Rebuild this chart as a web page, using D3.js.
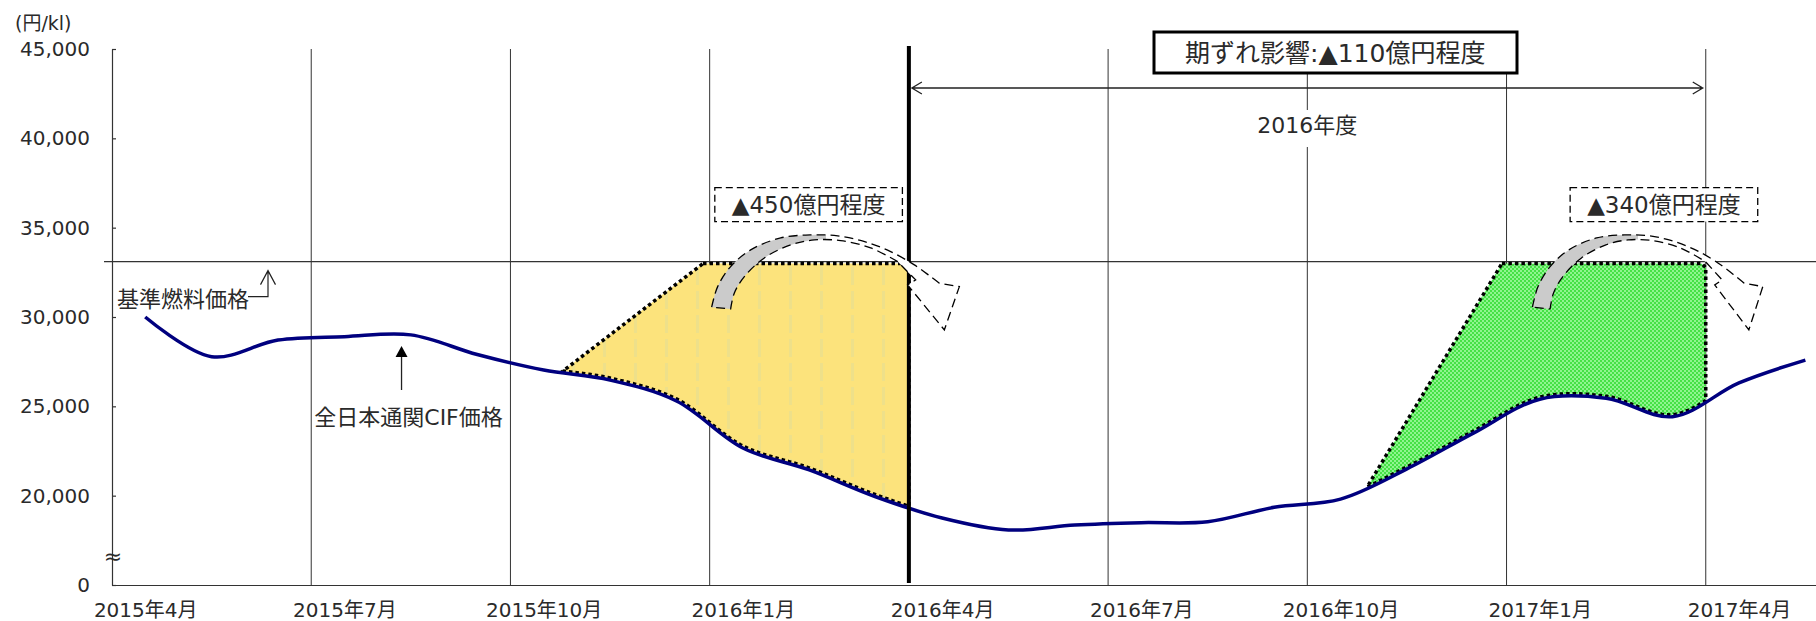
<!DOCTYPE html>
<html lang="ja">
<head>
<meta charset="utf-8">
<title>基準燃料価格と全日本通関CIF価格</title>
<style>
body { margin: 0; background: #fff; }
svg text { font-family: "DejaVu Sans", "Noto Sans CJK JP", sans-serif; fill: #2a2a2a; }
.grid line { stroke: #333; stroke-width: 1; }
.axis path, .axis line { stroke: #333; stroke-width: 1.2; }
.axis text { font-size: 20px; fill: #2a2a2a; }
.cif { fill: none; stroke: #00007f; stroke-width: 3.5px; }
.band { stroke: #000; stroke-width: 3.5; stroke-dasharray: 3.5,3; }
.curl { stroke: #000; stroke-width: 1.3; stroke-dasharray: 9,5; }
</style>
<script src="https://cdn.jsdelivr.net/npm/d3@7"></script>
</head>
<body>
<script>

// month index 0 = 2015年4月, one step per month
var tickMonths = [0, 3, 6, 9, 12, 15, 18, 21, 24];
var tickLabels = ["2015年4月", "2015年7月", "2015年10月", "2016年1月", "2016年4月",
                  "2016年7月", "2016年10月", "2017年1月", "2017年4月"];
var yTicks = [15000, 20000, 25000, 30000, 35000, 40000, 45000];

// 全日本通関CIF価格 (円/kl), monthly, 2015年4月 .. 2017年5月
var cifPrice = [30000, 27780, 28710, 28900, 29000, 27900, 27030, 26470, 25300, 22670,
                21440, 19940, 18750, 18080, 18360, 18490, 18540, 19350, 19810, 21500,
                23500, 25400, 25450, 24420, 26310, 27590];

var basePrice = 33100;   // 基準燃料価格

// shaded gaps between 基準燃料価格 and CIF (month index)
var gapFrom   = [6.79, 18.9];
var gapCorner = [8.9, 20.93];
var gapTo     = [12, 24];
var gapLabels = ["▲450億円程度", "▲340億円程度"];
var gapLabelAt = [10.49, 23.37];
var curlAt = [9.03, 21.39];
var curlScale = [1, 0.93];

var width = 1816, height = 621;

var svg = d3.select("body").append("svg")
    .attr("width", width)
    .attr("height", height);

var x = d3.scaleLinear().domain([0, 25.66]).range([112, 1816]);
var y = d3.scaleLinear().domain([15000, 45000]).range([585, 49]);

var defs = svg.append("defs");

var yp = defs.append("pattern").attr("id", "yellowFill")
    .attr("patternUnits", "userSpaceOnUse").attr("width", 31).attr("height", 24);
yp.append("rect").attr("width", 31).attr("height", 24).attr("fill", "#fce37c");
yp.append("rect").attr("x", 14).attr("y", 3).attr("width", 3).attr("height", 18).attr("fill", "#eee08a");

var gp = defs.append("pattern").attr("id", "greenFill")
    .attr("patternUnits", "userSpaceOnUse").attr("width", 4).attr("height", 4);
gp.append("rect").attr("width", 4).attr("height", 4).attr("fill", "#8ff58f");
gp.append("rect").attr("width", 2).attr("height", 2).attr("fill", "#45e145");
gp.append("rect").attr("x", 2).attr("y", 2).attr("width", 2).attr("height", 2).attr("fill", "#45e145");

var grad = defs.append("linearGradient").attr("id", "curlFill")
    .attr("x1", 0).attr("x2", 1).attr("y1", 0).attr("y2", 0);
grad.append("stop").attr("offset", 0).attr("stop-color", "#cbcbcb");
grad.append("stop").attr("offset", 0.46).attr("stop-color", "#cbcbcb");
grad.append("stop").attr("offset", 0.46).attr("stop-color", "#fff");
grad.append("stop").attr("offset", 1).attr("stop-color", "#fff");

// vertical grid
svg.append("g").attr("class", "grid")
  .selectAll("line")
  .data(tickMonths.filter(function(m) { return m != 0 && m != 12; }))
  .enter().append("line")
    .attr("x1", function(d) { return x(d); })
    .attr("x2", function(d) { return x(d); })
    .attr("y1", y(45000))
    .attr("y2", y(15000));

// 基準燃料価格 line
svg.append("line")
    .attr("x1", x(0) - 8).attr("x2", width)
    .attr("y1", y(basePrice)).attr("y2", y(basePrice))
    .attr("stroke", "#333").attr("stroke-width", 1.2);

var valueline = d3.line()
    .x(function(d, i) { return x(i + 0.5); })
    .y(function(d) { return y(d); })
    .curve(d3.curveCatmullRom.alpha(0.5));

var gapLayer = svg.append("g");

var cifPath = svg.append("path")
    .datum(cifPrice)
    .attr("class", "cif")
    .attr("d", valueline);

function yAtX(node, px) {
  var lo = 0, hi = node.getTotalLength();
  for (var k = 0; k < 40; k++) {
    var mid = (lo + hi) / 2;
    if (node.getPointAtLength(mid).x < px) lo = mid; else hi = mid;
  }
  return node.getPointAtLength((lo + hi) / 2).y;
}

var fills = ["url(#yellowFill)", "url(#greenFill)"];
gapFrom.forEach(function(f, k) {
  var xa = x(f), xb = x(gapTo[k]), yt = y(basePrice) + 2;
  var lower = d3.range(xb, xa, -2).concat([xa]).map(function(px) {
    return [px, yAtX(cifPath.node(), px) - 2];
  });
  var pts = [[x(gapCorner[k]), yt], [xb - 4, yt], [xb, yt + 4]].concat(lower);
  gapLayer.append("path")
      .attr("class", "band")
      .attr("fill", fills[k])
      .attr("d", d3.line()(pts) + "Z");
});

// thick 2016年4月 divider
svg.append("line")
    .attr("x1", x(12)).attr("x2", x(12))
    .attr("y1", y(45000) - 3).attr("y2", y(15000) - 2)
    .attr("stroke", "#000").attr("stroke-width", 4);

// axes
svg.append("g")
    .attr("class", "axis")
    .attr("transform", "translate(" + x(0) + ",0)")
    .call(d3.axisLeft(y).tickValues(yTicks).tickSizeInner(-4).tickSizeOuter(0).tickPadding(22)
      .tickFormat(function(v) { return v == 15000 ? "0" : d3.format(",")(v); }));

svg.append("g")
    .attr("class", "axis")
    .attr("transform", "translate(0," + y(15000) + ")")
    .call(d3.axisBottom(x).tickValues(tickMonths.map(function(m) { return m + 0.5; }))
      .tickSize(0).tickPadding(18)
      .tickFormat(function(d, i) { return tickLabels[i]; }));

// axis break mark
svg.append("text")
    .attr("x", x(0) + 1).attr("y", y(16600))
    .attr("text-anchor", "middle").attr("dominant-baseline", "central")
    .style("font-size", "22px")
    .text("≈");

// unit
svg.append("text")
    .attr("x", 15).attr("y", 23)
    .attr("dominant-baseline", "central")
    .style("font-size", "19px")
    .text("(円/kl)");

// 基準燃料価格 label + pointer
var by = y(basePrice);
svg.append("text")
    .attr("x", 117).attr("y", by + 38)
    .attr("dominant-baseline", "central")
    .style("font-size", "22px")
    .text("基準燃料価格");
svg.append("path")
    .attr("fill", "none").attr("stroke", "#222").attr("stroke-width", 1.2)
    .attr("d", "M248," + (by + 35) + "H268V" + (by + 9) +
               "M260.5," + (by + 23) + "L268," + (by + 9) + "L275.5," + (by + 23));

// 全日本通関CIF価格 label + arrow
var ax = x(4.36), ay = yAtX(cifPath.node(), ax) + 12;
svg.append("line")
    .attr("x1", ax).attr("x2", ax).attr("y1", ay + 8).attr("y2", ay + 44)
    .attr("stroke", "#222").attr("stroke-width", 1.3);
svg.append("path")
    .attr("fill", "#000")
    .attr("d", "M" + ax + "," + ay + "l-6,11h12z");
svg.append("text")
    .attr("x", ax + 7).attr("y", ay + 71)
    .attr("text-anchor", "middle").attr("dominant-baseline", "central")
    .style("font-size", "22px")
    .text("全日本通関CIF価格");

// curved arrows (shape template relative to tail)
var curlOuter = [[0,45.6],[6,25],[19,5],[39,-11.7],[69,-23.7],[99,-26.7],[126,-25.7],
                 [153,-20],[179,-10],[202.7,3.3],[219,15],[227.7,21.6]];
var curlHead  = [[247.7,25],[232.7,68.3],[196,23.3],[204,18.3]];
var curlInner = [[186,0],[159,-13.7],[129,-21],[102.7,-21.7],[79,-16.7],[52.7,-3.7],
                 [32.7,15],[22.7,31.3],[19,47.3]];
var smooth = d3.line().curve(d3.curveCatmullRom.alpha(0.5));
var curlD = smooth(curlOuter) +
    curlHead.map(function(p) { return "L" + p[0] + "," + p[1]; }).join("") +
    smooth(curlInner).replace(/^M/, "L") + "Z";

curlAt.forEach(function(c, k) {
  svg.append("path")
      .attr("class", "curl")
      .attr("fill", "url(#curlFill)")
      .attr("vector-effect", "non-scaling-stroke")
      .attr("transform", "translate(" + x(c) + "," + by + ") scale(" + curlScale[k] + ",1)")
      .attr("d", curlD);
});

// dashed amount boxes
gapLabels.forEach(function(t, k) {
  var g = svg.append("g");
  var r = g.append("rect");
  var tx = g.append("text")
      .attr("x", x(gapLabelAt[k])).attr("y", by - 57)
      .attr("text-anchor", "middle").attr("dominant-baseline", "central")
      .style("font-size", "23px")
      .text(t);
  var bb = tx.node().getBBox();
  r.attr("x", bb.x - 17).attr("y", by - 74).attr("width", bb.width + 34).attr("height", 34)
      .attr("fill", "#fff").attr("stroke", "#000").attr("stroke-width", 1.3)
      .attr("stroke-dasharray", "7,4");
});

// 2016年度 span
var sy = 88;
svg.append("path")
    .attr("fill", "none").attr("stroke", "#222").attr("stroke-width", 1.3)
    .attr("d", "M" + (x(12) + 3) + "," + sy + "H" + (x(24) - 3) +
               "M" + (x(12) + 13) + "," + (sy - 6) + "L" + (x(12) + 3) + "," + sy + "L" + (x(12) + 13) + "," + (sy + 6) +
               "M" + (x(24) - 13) + "," + (sy - 6) + "L" + (x(24) - 3) + "," + sy + "L" + (x(24) - 13) + "," + (sy + 6));

var fy = svg.append("g");
var fyr = fy.append("rect");
var fyt = fy.append("text")
    .attr("x", x(18)).attr("y", 125)
    .attr("text-anchor", "middle").attr("dominant-baseline", "central")
    .style("font-size", "22px")
    .text("2016年度");
var fb = fyt.node().getBBox();
fyr.attr("x", fb.x - 4).attr("y", 110).attr("width", fb.width + 8).attr("height", 37).attr("fill", "#fff");

// headline box
var hg = svg.append("g");
var hr = hg.append("rect");
var ht = hg.append("text")
    .attr("x", x(18.42)).attr("y", 53)
    .attr("text-anchor", "middle").attr("dominant-baseline", "central")
    .style("font-size", "25px")
    .text("期ずれ影響:▲110億円程度");
hr.attr("x", 1154).attr("y", 32).attr("width", 363).attr("height", 41)
    .attr("fill", "#fff").attr("stroke", "#000").attr("stroke-width", 3);

</script>
</body>
</html>
